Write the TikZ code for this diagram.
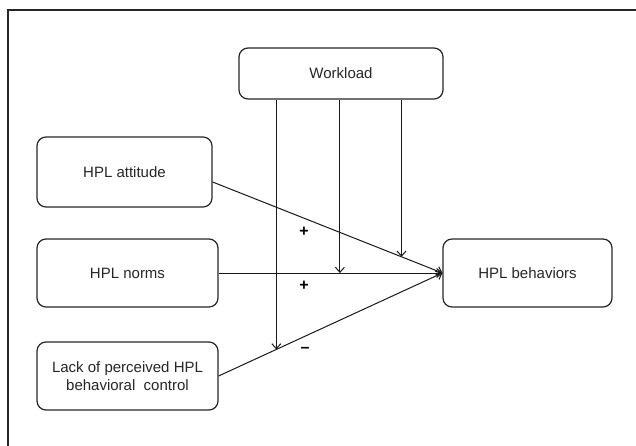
\documentclass[tikz,border=0pt]{standalone}
\usepackage{fontspec}
\setmainfont{Liberation Sans}
\usetikzlibrary{arrows.meta,calc}
\begin{document}
\begin{tikzpicture}[x=1pt,y=-1pt,
  box/.style={draw=black!85,line width=1.2pt,rounded corners=9pt,inner sep=0pt,align=center,font=\fontsize{15}{18.5}\selectfont,text=black!85},
  conn/.style={draw=black!90,line width=1pt},
  arr/.style={conn,-{Straight Barb[length=5pt,width=9pt,line width=1pt]}},
  sign/.style={font=\bfseries\fontsize{16}{16}\selectfont,inner sep=0pt}]
\useasboundingbox (0,0) rectangle (636,446);
\clip (0,0) rectangle (636,446);
\draw[line width=1.2pt,draw=black!85] (8,10) rectangle (650,460);
\node[box,minimum width=204pt,minimum height=51pt] (work) at (341,73.5) {Workload};
\node[box,minimum width=175pt,minimum height=70pt] (att) at (124.5,172) {HPL attitude};
\node[box,minimum width=181pt,minimum height=68pt] (norms) at (127.5,273) {HPL norms};
\node[box,minimum width=181pt,minimum height=68pt] (lack) at (127.5,376) {Lack of perceived HPL\\behavioral\ \ control};
\node[box,minimum width=169pt,minimum height=68pt] (beh) at (527.5,273) {HPL behaviors};
\coordinate (attout) at ($(att.east)+(0,10)$);
\draw[arr] (attout) -- (beh.west);
\draw[arr] (norms.east) -- (beh.west);
\draw[arr] (lack.east) -- (beh.west);
\coordinate (m3) at ($(attout)!0.822!(beh.west)$);
\coordinate (m2) at ($(norms.east)!0.542!(beh.west)$);
\coordinate (m1) at ($(lack.east)!0.258!(beh.west)$);
\draw[arr] (m3 |- work.south) -- (m3);
\draw[arr] (m2 |- work.south) -- (m2);
\draw[arr] (m1 |- work.south) -- (m1);
\node[sign] (s1) at (304,232) {+};
\node[sign] (s2) at (304,286) {+};
\node[sign] (s3) at (305,350) {--};
\end{tikzpicture}
\end{document}
